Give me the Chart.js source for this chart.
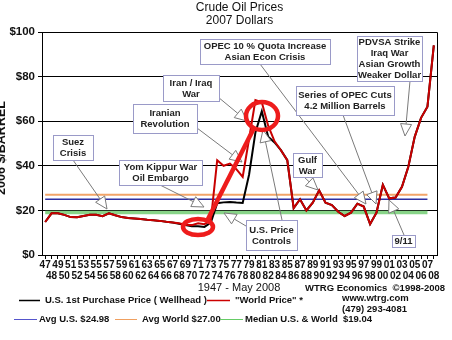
<!DOCTYPE html>
<html>
<head>
<meta charset="utf-8">
<title>Crude Oil Prices</title>
<script src="https://cdn.jsdelivr.net/npm/chart.js@4.4.1/dist/chart.umd.min.js"></script>
<style>
  html, body { margin: 0; padding: 0; background: #fff; }
  canvas { display: block; }
</style>
</head>
<body>
<canvas id="oilChart" width="452" height="340"></canvas>
<script>
// Years 1947 - 2008, two-digit labels
const years = ['47','48','49','50','51','52','53','54','55','56','57','58','59','60','61','62',
  '63','64','65','66','67','68','69','70','71','72','73','74','75','76','77','78','79','80',
  '81','82','83','84','85','86','87','88','89','90','91','92','93','94','95','96','97','98',
  '99','00','01','02','03','04','05','06','07','08'];

// "World Price" in 2007 dollars per barrel
const worldPrice = [14.8, 18.7, 18.7, 18.0, 17.0, 16.9, 17.5, 18.0, 18.0, 17.4, 18.7, 17.8,
  17.0, 16.6, 16.4, 16.1, 15.8, 15.6, 15.3, 14.9, 14.6, 14.2, 13.6, 13.4, 14.2, 13.8, 15.5,
  42.5, 40.0, 41.0, 38.5, 35.0, 52.0, 69.5, 68.5, 58.0, 51.0, 47.0, 42.5, 21.0, 25.0, 20.0,
  23.5, 29.0, 23.5, 22.4, 19.4, 17.5, 19.0, 23.0, 21.7, 13.9, 19.0, 31.5, 25.4, 25.8, 30.6,
  39.6, 53.0, 61.5, 66.5, 94.0];

// U.S. 1st purchase price (wellhead), 2007 dollars
const usWellhead = [14.8, 18.7, 18.7, 18.0, 17.0, 16.9, 17.5, 18.0, 18.0, 17.4, 18.7, 17.8,
  17.0, 16.6, 16.4, 16.1, 15.8, 15.6, 15.3, 14.9, 14.6, 14.0, 13.4, 12.9, 12.9, 12.6, 14.5,
  23.2, 23.6, 23.8, 23.5, 23.3, 36.0, 55.0, 64.5, 53.0, 50.5, 47.0, 42.5, 21.0, 25.0, 20.0,
  23.5, 29.0, 23.5, 22.4, 19.4, 17.5, 19.0, 23.0, 21.7, 13.9, 19.0, 31.5, 25.4, 25.8, 30.6,
  39.6, 53.0, 61.5, 66.5, 94.0];

// Long-run reference levels
const avgUS = 24.98;
const avgWorld = 27.00;
const medianBoth = 19.04;

const yTicks = [0, 20, 40, 60, 80, 100];

// reference levels run through 2007 only
const levelLine = v => years.map((_, i) => (i < years.length - 1 ? v : null));

const FONT = '"Liberation Sans", Arial, sans-serif';

function arrow(ctx, x1, y1, x2, y2) {
    const ang = Math.atan2(y2 - y1, x2 - x1);
    const len = 12, half = 5.5;
    const bx = x2 - len * Math.cos(ang), by = y2 - len * Math.sin(ang);
    ctx.strokeStyle = '#7a7a7a';
    ctx.lineWidth = 1;
    ctx.beginPath();
    ctx.moveTo(x1, y1);
    ctx.lineTo(bx, by);
    ctx.stroke();
    ctx.beginPath();
    ctx.moveTo(x2, y2);
    ctx.lineTo(bx + half * Math.sin(ang), by - half * Math.cos(ang));
    ctx.lineTo(bx - half * Math.sin(ang), by + half * Math.cos(ang));
    ctx.closePath();
    ctx.fillStyle = '#fff';
    ctx.fill();
    ctx.stroke();
}

function callout(ctx, x, y, w, h, lines, arrows) {
    arrows.forEach(a => arrow(ctx, a[0], a[1], a[2], a[3]));
    ctx.fillStyle = '#fff';
    ctx.fillRect(x, y, w, h);
    ctx.strokeStyle = '#9a9ac8';
    ctx.lineWidth = 1;
    ctx.strokeRect(x + 0.5, y + 0.5, w, h);
    ctx.fillStyle = '#222';
    ctx.font = 'bold 9.5px ' + FONT;
    ctx.textAlign = 'center';
    ctx.textBaseline = 'middle';
    const lh = 11;
    const top = y + h / 2 - (lines.length - 1) * lh / 2;
    lines.forEach((t, i) => ctx.fillText(t, x + w / 2, top + i * lh + 0.5));
}

function legendLine(ctx, x1, x2, y, color, width) {
    ctx.strokeStyle = color;
    ctx.lineWidth = width;
    ctx.beginPath();
    ctx.moveTo(x1, y);
    ctx.lineTo(x2, y);
    ctx.stroke();
}

const decorations = {
    id: 'decorations',
    afterDraw(chart) {
        const ctx = chart.ctx;
        const area = chart.chartArea;
        ctx.save();

        // frame on the top and right of the plot
        ctx.strokeStyle = '#000';
        ctx.lineWidth = 1;
        ctx.beginPath();
        ctx.moveTo(area.left, area.top + 0.5);
        ctx.lineTo(area.right + 0.5, area.top + 0.5);
        ctx.lineTo(area.right + 0.5, area.bottom);
        ctx.stroke();

        // event callouts
        callout(ctx, 200, 39, 130, 25, ['OPEC 10 % Quota Increase', 'Asian Econ Crisis'], [[260, 64, 366, 204]]);
        callout(ctx, 357, 36, 65, 45, ['PDVSA Strike', 'Iraq War', 'Asian Growth', 'Weaker Dollar'], [[410, 81, 405, 136]]);
        callout(ctx, 296, 86, 98, 29, ['Series of OPEC Cuts', '4.2 Million Barrels'], [[343, 115, 376, 204]]);
        callout(ctx, 163, 75, 56, 26, ['Iran / Iraq', 'War'], [[218, 97, 247, 121]]);
        callout(ctx, 133, 104, 64, 29, ['Iranian', 'Revolution'], [[197, 128, 242, 162]]);
        callout(ctx, 53, 135, 40, 25, ['Suez', 'Crisis'], [[73, 160, 107, 209]]);
        callout(ctx, 119, 160, 83, 25, ['Yom Kippur War', 'Oil Embargo'], [[160, 185, 204, 207]]);
        callout(ctx, 246, 220, 51, 30, ['U.S. Price', 'Controls'], [[246, 226, 224, 213], [282, 220, 263, 130]]);
        callout(ctx, 293, 153, 29, 24, ['Gulf', 'War'], [[304, 177, 318, 190]]);
        callout(ctx, 392, 235, 23, 12, ['9/11'], [[404, 235, 389, 200]]);

        // red highlight: 1970s low to 1980 peak
        ctx.strokeStyle = '#ee1c1c';
        ctx.lineWidth = 4.5;
        ctx.beginPath();
        ctx.ellipse(262, 116, 16, 14, 0, 0, Math.PI * 2);
        ctx.stroke();
        ctx.beginPath();
        ctx.ellipse(198, 227, 15, 8, 0, 0, Math.PI * 2);
        ctx.stroke();
        ctx.beginPath();
        ctx.moveTo(207, 221);
        ctx.lineTo(254, 128);
        ctx.stroke();

        // titles
        ctx.fillStyle = '#111';
        ctx.textAlign = 'center';
        ctx.textBaseline = 'middle';
        ctx.font = '12px ' + FONT;
        ctx.fillText('Crude Oil Prices', 239.5, 8);
        ctx.fillText('2007 Dollars', 239.5, 21);

        ctx.save();
        ctx.translate(1.5, 148);
        ctx.rotate(-Math.PI / 2);
        ctx.font = 'bold 12.5px ' + FONT;
        ctx.fillText('2006 $/BARREL', 0, 0);
        ctx.restore();

        ctx.font = '11px ' + FONT;
        ctx.fillText('1947 - May 2008', 239, 288);

        // legend and credits
        ctx.textAlign = 'left';
        ctx.font = 'bold 9.5px ' + FONT;
        ctx.fillText('WTRG Economics  \u00A91998-2008', 305, 288);
        ctx.fillText('www.wtrg.com', 342, 298);
        ctx.fillText('(479) 293-4081', 342, 309);

        legendLine(ctx, 19, 40, 300.5, '#000', 1.5);
        ctx.fillText('U.S. 1st Purchase Price ( Wellhead )', 45, 300.5);
        legendLine(ctx, 207, 230, 300.5, '#cc0000', 1.5);
        ctx.fillText('"World Price" *', 235, 300.5);

        legendLine(ctx, 14, 37, 319.5, '#5555cc', 1);
        ctx.fillText('Avg U.S. $' + avgUS.toFixed(2), 39, 319.5);
        legendLine(ctx, 115, 137, 319.5, '#f0a060', 1);
        ctx.fillText('Avg World $' + avgWorld.toFixed(2), 142, 319.5);
        legendLine(ctx, 220, 243, 319.5, '#66cc66', 1);
        ctx.fillText('Median U.S. & World  $' + medianBoth.toFixed(2), 245, 319.5);

        ctx.restore();
    }
};

const ctx = document.getElementById('oilChart').getContext('2d');
new Chart(ctx, {
    type: 'line',
    data: {
        labels: years,
        datasets: [
            { label: '"World Price" *', data: worldPrice, borderColor: '#c80000', borderWidth: 2, order: 0 },
            { label: 'U.S. 1st Purchase Price ( Wellhead )', data: usWellhead, borderColor: '#000', borderWidth: 2, order: 1 },
            { label: 'Avg U.S.', data: levelLine(avgUS), borderColor: '#2e2ea0', borderWidth: 1.5, order: 2 },
            { label: 'Avg World', data: levelLine(avgWorld), borderColor: '#f2a468', borderWidth: 2, order: 3 },
            { label: 'Median U.S. & World', data: levelLine(medianBoth), borderColor: '#88d488', borderWidth: 3.5, order: 4 }
        ]
    },
    options: {
        responsive: false,
        animation: false,
        devicePixelRatio: 1,
        layout: { padding: { top: 32, right: 15, left: 0, bottom: 0 } },
        elements: { point: { radius: 0 }, line: { tension: 0 } },
        plugins: { legend: { display: false }, tooltip: { enabled: false }, title: { display: false } },
        scales: {
            x: {
                offset: true,
                afterFit: scale => { scale.height = 85; },
                border: { color: '#000', width: 1 },
                grid: { drawOnChartArea: false, tickLength: 4, color: '#000' },
                ticks: {
                    autoSkip: false,
                    maxRotation: 0,
                    padding: 1,
                    color: '#111',
                    font: { family: FONT, size: 10, weight: 'bold', lineHeight: 1.07 },
                    callback: (value, index) => (index % 2 === 0 ? [years[index], ''] : ['', years[index]])
                }
            },
            y: {
                min: 0,
                max: 100,
                afterFit: scale => { scale.width = 42; },
                afterBuildTicks: scale => { scale.ticks = yTicks.map(v => ({ value: v })); },
                border: { color: '#000', width: 1 },
                grid: { color: '#000', lineWidth: 1, tickLength: 4 },
                ticks: {
                    padding: 3,
                    color: '#111',
                    font: { family: FONT, size: 11.5, weight: 'bold' },
                    callback: v => '$' + v
                }
            }
        }
    },
    plugins: [decorations]
});
</script>
</body>
</html>
